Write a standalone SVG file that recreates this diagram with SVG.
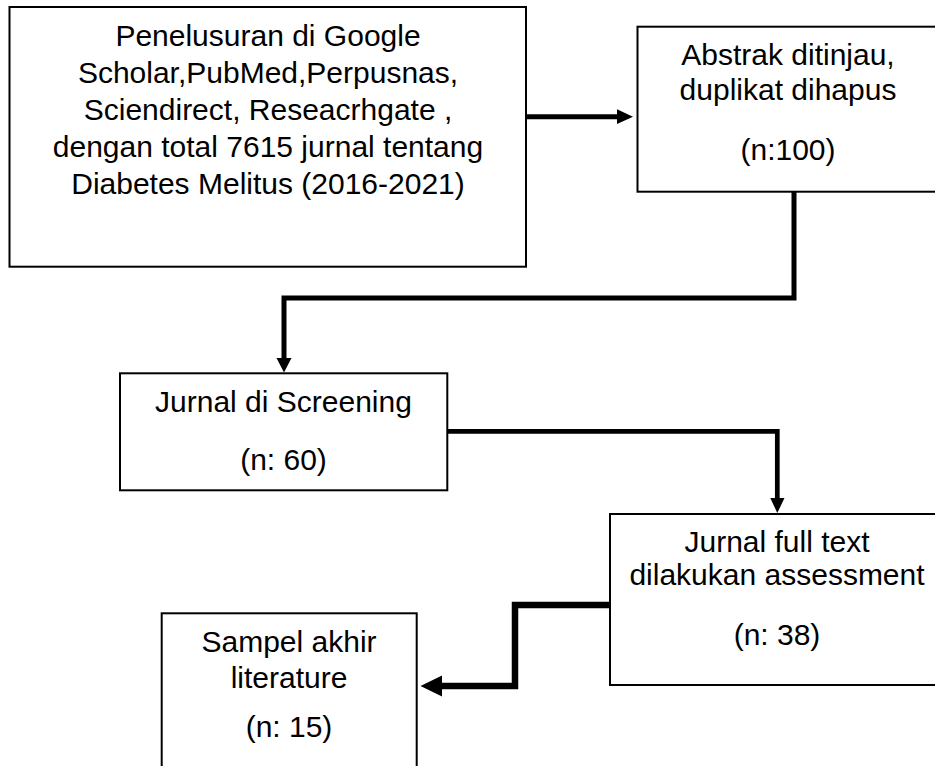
<svg xmlns="http://www.w3.org/2000/svg" width="935" height="766" viewBox="0 0 935 766">
<style>
.box{fill:#fff;stroke:#000;stroke-width:2}
.t{font-family:"Liberation Sans",Arial,sans-serif;font-size:30px;fill:#000;text-anchor:middle}
.ln{fill:none;stroke:#000;stroke-linejoin:miter;stroke-linecap:butt}
.head{fill:#000}
</style>
<rect x="0" y="0" width="935" height="766" fill="#fff"/>
<g id="connectors">
<path class="ln" d="M526,116.7 H618" stroke-width="5"/>
<polygon class="head" points="617,109.3 633,116.7 617,124"/>
<path class="ln" d="M794,192 V298 H284 V359" stroke-width="5"/>
<polygon class="head" points="276.5,358 291.5,358 284,372.5"/>
<path class="ln" d="M447,431.3 H777.3 V499" stroke-width="4.7"/>
<polygon class="head" points="770.3,498 784.5,498 777.3,513"/>
<path class="ln" d="M610,605 H515 V686 H441" stroke-width="6.5"/>
<polygon class="head" points="442,675.5 420.5,686 442,696.5"/>
</g>
<g id="node-search">
<rect class="box" x="9.5" y="7" width="516.5" height="259.7"/>
<text class="t" x="268" y="46">Penelusuran di Google</text>
<text class="t" x="268" y="83">Scholar,PubMed,Perpusnas,</text>
<text class="t" x="268" y="120">Sciendirect, Reseacrhgate ,</text>
<text class="t" x="268" y="157">dengan total 7615 jurnal tentang</text>
<text class="t" x="268" y="194">Diabetes Melitus (2016-2021)</text>
</g>
<g id="node-abstrak">
<rect class="box" x="637.5" y="26.7" width="302" height="165"/>
<text class="t" x="788" y="65">Abstrak ditinjau,</text>
<text class="t" x="788" y="100">duplikat dihapus</text>
<text class="t" x="788" y="160">(n:100)</text>
</g>
<g id="node-screening">
<rect class="box" x="120" y="373.3" width="327.3" height="117"/>
<text class="t" x="283.5" y="411.7">Jurnal di Screening</text>
<text class="t" x="283.5" y="470">(n: 60)</text>
</g>
<g id="node-fulltext">
<rect class="box" x="610" y="514" width="334" height="171"/>
<text class="t" x="777" y="551.7">Jurnal full text</text>
<text class="t" x="777" y="585">dilakukan assessment</text>
<text class="t" x="777" y="645">(n: 38)</text>
</g>
<g id="node-sampel">
<rect class="box" x="161.7" y="613.3" width="255" height="170"/>
<text class="t" x="289" y="651.7">Sampel akhir</text>
<text class="t" x="289" y="688.3">literature</text>
<text class="t" x="289" y="736.7">(n: 15)</text>
</g>
</svg>
